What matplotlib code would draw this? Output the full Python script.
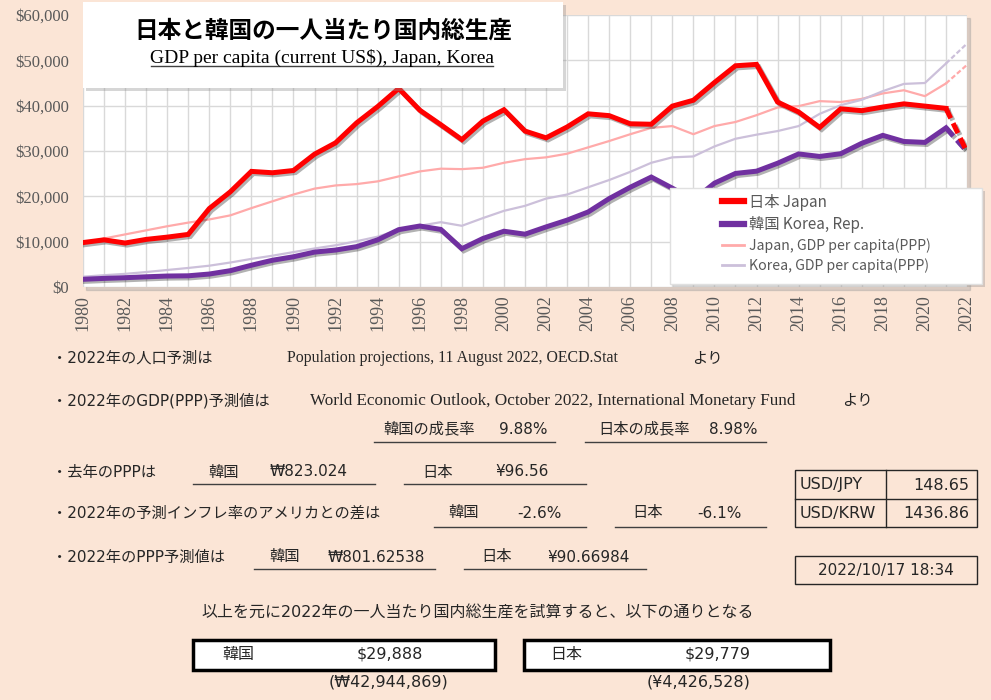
import numpy as np
import matplotlib
matplotlib.use("Agg")
import matplotlib.pyplot as plt
from matplotlib.patches import Rectangle
from matplotlib.lines import Line2D
import matplotlib.patheffects as pe

# ---- data ----
years = list(range(1980, 2023))

japan = [9800, 10400, 9700, 10500, 11000, 11600, 17300, 21000, 25500, 25200,
         25700, 29300, 31800, 36200, 39800, 43800, 39000, 35800, 32500, 36600,
         39100, 34400, 32900, 35300, 38200, 37800, 36000, 35900, 39900, 41200,
         45100, 48800, 49100, 40800, 38600, 35200, 39300, 38900, 39700, 40400,
         39900, 39400, 29779]

korea = [1700, 1900, 2050, 2250, 2420, 2470, 2860, 3600, 4800, 5900,
         6670, 7700, 8150, 8900, 10400, 12650, 13450, 12700, 8450, 10700,
         12300, 11650, 13250, 14750, 16550, 19500, 22000, 24250, 21800, 19200,
         22900, 25050, 25550, 27300, 29350, 28800, 29400, 31700, 33450, 32100,
         31900, 35100, 29888]

japan_ppp = [9600, 10700, 11600, 12500, 13400, 14200, 14900, 15800, 17400, 18900,
             20400, 21700, 22400, 22700, 23300, 24400, 25500, 26100, 26000, 26300,
             27400, 28200, 28600, 29400, 30800, 32200, 33700, 35100, 35500, 33700,
             35500, 36400, 37900, 39600, 39900, 41000, 40800, 41500, 42700, 43400,
             42100, 44900, 49000]

korea_ppp = [2270, 2600, 2900, 3300, 3750, 4200, 4700, 5400, 6200, 6900,
             7700, 8500, 9200, 10100, 11100, 12600, 13500, 14300, 13500, 15200,
             16800, 17900, 19500, 20400, 22000, 23600, 25400, 27400, 28600, 28800,
             31000, 32700, 33600, 34400, 35500, 38200, 40100, 41300, 43200, 44800,
             45000, 49300, 53700]

fx_pairs = ["USD/JPY", "USD/KRW"]
fx_rates = ["148.65", "1436.86"]

W, H = 991, 700
BG = "#FBE5D6"
JP = ["Noto Sans CJK JP", "DejaVu Sans"]
MIX = ["DejaVu Sans", "Noto Sans CJK JP"]   # wide latin digits, CJK fallback
SERIF = "Liberation Serif"
TXT = "#262626"

fig = plt.figure(figsize=(W / 100, H / 100), dpi=100, facecolor=BG)

# plot area
L, R, T, B = 83, 967, 15, 287
ax = fig.add_axes([L / W, 1 - B / H, (R - L) / W, (B - T) / H])
ax.set_facecolor("white")
# plot area shadow
fig.patches.append(Rectangle(((L + 3) / W, 1 - (B + 3) / H), (R - L) / W, (B - T) / H,
                             transform=fig.transFigure, color="#9a9a9a", alpha=0.35,
                             zorder=-1))

ax.set_xlim(1980, 2022)
ax.set_ylim(0, 60000)
ax.set_xticks(years[::2])
ax.set_xticks(years, minor=True)
ax.set_xticklabels([str(y) for y in years[::2]], rotation=90, family=SERIF,
                   fontsize=13, color="#595959")
ax.set_yticks(range(0, 60001, 10000))
ax.set_yticklabels(["${:,}".format(v) for v in range(0, 60001, 10000)],
                   family=SERIF, fontsize=12, color="#595959")
ax.tick_params(axis="both", which="both", length=0)
ax.tick_params(axis="y", pad=10)
ax.tick_params(axis="x", pad=6)
ax.grid(True, which="both", color="#D9D9D9", lw=1)
ax.set_axisbelow(True)
for s in ax.spines.values():
    s.set_visible(False)

c_jp, c_kr = "#FF0000", "#7030A0"
c_jp_ppp, c_kr_ppp = "#FFAAAA", "#CCC0DA"
shadow = [pe.SimpleLineShadow(offset=(1.5, -1.5), shadow_color="k", alpha=0.3), pe.Normal()]
dash = (0, (2.2, 1.1))

ax.plot(years[:-1], japan_ppp[:-1], color=c_jp_ppp, lw=1.6, zorder=2)
ax.plot(years[-2:], japan_ppp[-2:], color=c_jp_ppp, lw=1.6, ls=dash, zorder=2)
ax.plot(years[:-1], korea_ppp[:-1], color=c_kr_ppp, lw=1.6, zorder=2)
ax.plot(years[-2:], korea_ppp[-2:], color=c_kr_ppp, lw=1.6, ls=dash, zorder=2)
ax.plot(years[:-1], korea[:-1], color=c_kr, lw=3.6, zorder=3, path_effects=shadow,
        solid_joinstyle="miter")
ax.plot(years[-2:], korea[-2:], color=c_kr, lw=3.6, ls=dash, zorder=3, path_effects=shadow)
ax.plot(years[:-1], japan[:-1], color=c_jp, lw=3.6, zorder=4, path_effects=shadow,
        solid_joinstyle="miter")
ax.plot(years[-2:], japan[-2:], color=c_jp, lw=3.6, ls=dash, zorder=4, path_effects=shadow)

# overlay in pixel coordinates for boxes and notes
ov = fig.add_axes([0, 0, 1, 1])
ov.set_xlim(0, W)
ov.set_ylim(H, 0)
ov.axis("off")


def box(x0, y0, x1, y1, fc="white", ec="none", lw=1.0, shade=True):
    if shade:
        ov.add_patch(Rectangle((x0 + 3, y0 + 3), x1 - x0, y1 - y0, color="#8c8c8c",
                               alpha=0.35, lw=0))
    ov.add_patch(Rectangle((x0, y0), x1 - x0, y1 - y0, facecolor=fc, edgecolor=ec, lw=lw))


def uline(x0, x1, y):
    ov.plot([x0, x1], [y, y], color="#404040", lw=1)


def note(x, y, s, size=11, ha="left", fam=MIX):
    ov.text(x, y, s, family=fam, fontsize=size, va="center", ha=ha, color=TXT)


# title box
box(83, 2, 563, 88)
ov.text(323, 31, "日本と韓国の一人当たり国内総生産", family=JP, fontsize=17,
        fontweight="bold", ha="center", va="center", color="black")
ov.text(322, 58, "GDP per capita (current US$), Japan, Korea", family=SERIF,
        fontsize=14, ha="center", va="center", color="black")
uline(151, 493, 66)

# legend frame + legend
box(670, 188, 982, 284, ec="#E0E0E0")
handles = [Line2D([], [], color=c_jp, lw=4.5),
           Line2D([], [], color=c_kr, lw=4.5),
           Line2D([], [], color=c_jp_ppp, lw=2),
           Line2D([], [], color=c_kr_ppp, lw=2)]
labels = ["日本 Japan", "韓国 Korea, Rep.", "Japan, GDP per capita(PPP)",
          "Korea, GDP per capita(PPP)"]
leg = fig.legend(handles, labels, loc="upper left",
                 bbox_to_anchor=(711 / W, 1 - 183 / H), frameon=False,
                 prop={"family": JP, "size": 11}, handlelength=1.45,
                 handletextpad=0.35, labelspacing=0.35, borderpad=0.2)
for i, t in enumerate(leg.get_texts()):
    t.set_color("#595959")
    if i >= 2:
        t.set_fontsize(10.2)

# notes
bullets = [(358, "・2022年の人口予測は"), (401, "・2022年のGDP(PPP)予測値は"),
           (472, "・去年のPPPは"), (513, "・2022年の予測インフレ率のアメリカとの差は"),
           (557, "・2022年のPPP予測値は")]
for y, s in bullets:
    note(52, y, s)

note(287, 358, "Population projections, 11 August 2022, OECD.Stat", 11.4, fam=SERIF)
note(692, 358, "より", fam=JP)
note(310, 401, "World Economic Outlook, October 2022, International Monetary Fund",
     12.3, fam=SERIF)
note(842, 401, "より", fam=JP)

note(383, 429, "韓国の成長率")
note(547, 429, "9.88%", ha="right")
uline(374, 555, 442)
note(598, 429, "日本の成長率")
note(758, 429, "8.98%", ha="right")
uline(585, 766, 442)

note(208, 472, "韓国")
note(270, 472, "₩823.024")
uline(193, 375, 484)
note(422, 472, "日本")
note(495, 472, "¥96.56")
uline(404, 586, 484)

note(448, 513, "韓国")
note(562, 513, "-2.6%", ha="right")
uline(434, 586, 527)
note(632, 513, "日本")
note(742, 513, "-6.1%", ha="right")
uline(615, 766, 527)

note(269, 557, "韓国")
note(328, 557, "₩801.62538")
uline(254, 435, 569)
note(481, 557, "日本")
note(547, 557, "¥90.66984")
uline(464, 646, 569)

# exchange rate table
ov.add_patch(Rectangle((795, 470), 182, 57, facecolor="none", edgecolor="#262626", lw=1))
ov.plot([795, 977], [499, 499], color="#262626", lw=1)
ov.plot([886, 886], [470, 527], color="#262626", lw=1)
for i, (p, r) in enumerate(zip(fx_pairs, fx_rates)):
    yy = 485 + i * 28.5
    note(800, yy, p, 11.5)
    note(969, yy, r, 11.5, ha="right")

ov.add_patch(Rectangle((795, 556), 182, 28, facecolor="none", edgecolor="#262626", lw=1))
note(886, 570, "2022/10/17 18:34", 11, ha="center")

# result
note(201, 613, "以上を元に2022年の一人当たり国内総生産を試算すると、以下の通りとなる", 11.5)
box(193, 640, 495, 670, ec="black", lw=2.5, shade=False)
note(222, 654, "韓国", 11.5)
note(390, 654, "$29,888", 11.5, ha="center")
note(389, 682, "(₩42,944,869)", 11.5, ha="center")
box(524, 640, 830, 670, ec="black", lw=2.5, shade=False)
note(550, 654, "日本", 11.5)
note(718, 654, "$29,779", 11.5, ha="center")
note(699, 682, "(¥4,426,528)", 11.5, ha="center")

fig.savefig("out.png", dpi=100, facecolor=BG)
